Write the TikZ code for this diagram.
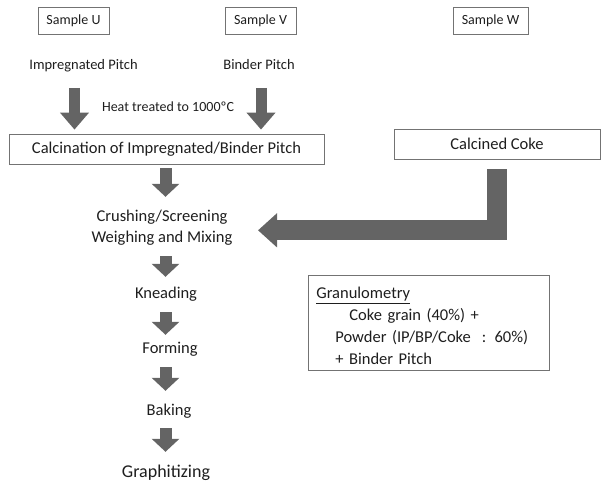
\documentclass[tikz,border=0pt]{standalone}
\usepackage{fontspec}
\setmainfont{Carlito}
\usetikzlibrary{arrows.meta}
\definecolor{arrowgray}{RGB}{100,100,100}
\definecolor{boxgray}{RGB}{115,115,115}
\definecolor{textgray}{RGB}{30,30,30}

\begin{document}
\begin{tikzpicture}[x=1pt, y=-1pt,
	every node/.style={text=textgray},
	samplebox/.style={draw=boxgray, line width=0.8pt, minimum width=71pt, minimum height=27pt, inner sep=0pt, font=\fontsize{14}{16}\selectfont},
	pitchtext/.style={inner sep=0pt, text height=10pt, text depth=3.5pt, font=\fontsize{14.5}{17}\selectfont},
	stagebox/.style={draw=boxgray, line width=0.8pt, minimum height=30pt, inner sep=0pt, font=\fontsize{16.5}{20}\selectfont},
	steptext/.style={inner sep=0pt, text height=11.5pt, text depth=3.5pt, font=\fontsize{16.5}{20}\selectfont},
	granbox/.style={draw=boxgray, line width=0.8pt, anchor=north west, text width=225pt, minimum height=95pt, inner xsep=8pt, inner ysep=0pt, align=left, font=\fontsize{16.5}{22}\selectfont},
	bigarrow/.style={draw=arrowgray, line width=11pt, -{Triangle[length=17pt,width=28pt]}},
	blockarrow/.style={draw=arrowgray, line width=12pt, -{Triangle[length=13pt,width=27pt]}},
	bendarrow/.style={draw=arrowgray, line width=20pt, line join=miter, -{Triangle[length=19pt,width=33pt]}}]
			\useasboundingbox (0,0) rectangle (603,483);

			% Sample nodes
			\node[samplebox] (sU) at (73.5,20.5) {Sample U};
			\node[samplebox] (sV) at (260.5,20.5) {Sample V};
			\node[samplebox, minimum width=75pt] (sW) at (490.5,21) {Sample W};

			% Pitch nodes
			\node[pitchtext] (imp) at (83.5,66) {Impregnated Pitch};
			\node[pitchtext] (bind) at (259,66) {Binder Pitch};
			\node[pitchtext, font=\fontsize{14}{16}\selectfont] (heat) at (168,108) {Heat treated to 1000ºC};

			% Calcination nodes
			\node[stagebox, minimum width=315pt] (calc) at (166.5,149) {Calcination of Impregnated/Binder Pitch};
			\node[stagebox, minimum width=206pt] (coke) at (497,144) {Calcined Coke};

			% Process steps
			\node[steptext] (crush) at (162,217) {Crushing/Screening};
			\node[steptext] (mix) at (162,238) {Weighing and Mixing};
			\node[steptext] (knead) at (166,294) {Kneading};
			\node[steptext] (form) at (170,349) {Forming};
			\node[steptext] (bake) at (169,411) {Baking};
			\node[steptext, text height=12.5pt, text depth=4pt, font=\fontsize{18}{21}\selectfont] (graph) at (166,473) {Graphitizing};

			% Granulometry box
			\node[granbox] (gran) at (308,275) {\rule{0pt}{18pt}\underline{Granulometry}\\\hspace*{33pt}Coke grain (40\%) +\\\hspace*{19pt}Powder (IP/BP/Coke~~: 60\%)\\\hspace*{19pt}+ Binder Pitch};

			% Arrows going down to calcination
			\draw[bigarrow] ([xshift=-9pt,yshift=-15pt]imp.south) -- ([xshift=-92pt,yshift=4pt]calc.north);
			\draw[bigarrow] ([xshift=2pt,yshift=-15pt]bind.south) -- ([xshift=94.5pt,yshift=4pt]calc.north);

			% Arrow from calcined coke
			\draw[bendarrow] ([yshift=-10pt]coke.south) |- ([xshift=96pt]mix.north);

			% Arrows between steps
			\draw[blockarrow] ([xshift=-1pt,yshift=-4pt]calc.south) -- ([xshift=3.5pt,yshift=12.5pt]crush.north);
			\draw[blockarrow] ([xshift=3.5pt,yshift=-10.5pt]mix.south) -- ([xshift=-0.5pt,yshift=9.5pt]knead.north);
			\draw[blockarrow] ([xshift=-0.5pt,yshift=-10.5pt]knead.south) -- ([xshift=-4.5pt,yshift=6.5pt]form.north);
			\draw[blockarrow] ([xshift=-4.5pt,yshift=-10.5pt]form.south) -- ([xshift=-3.5pt,yshift=12.5pt]bake.north);
			\draw[blockarrow] ([xshift=-3.5pt,yshift=-9.5pt]bake.south) -- ([xshift=-0.5pt,yshift=12.75pt]graph.north);

		\end{tikzpicture}
\end{document}
